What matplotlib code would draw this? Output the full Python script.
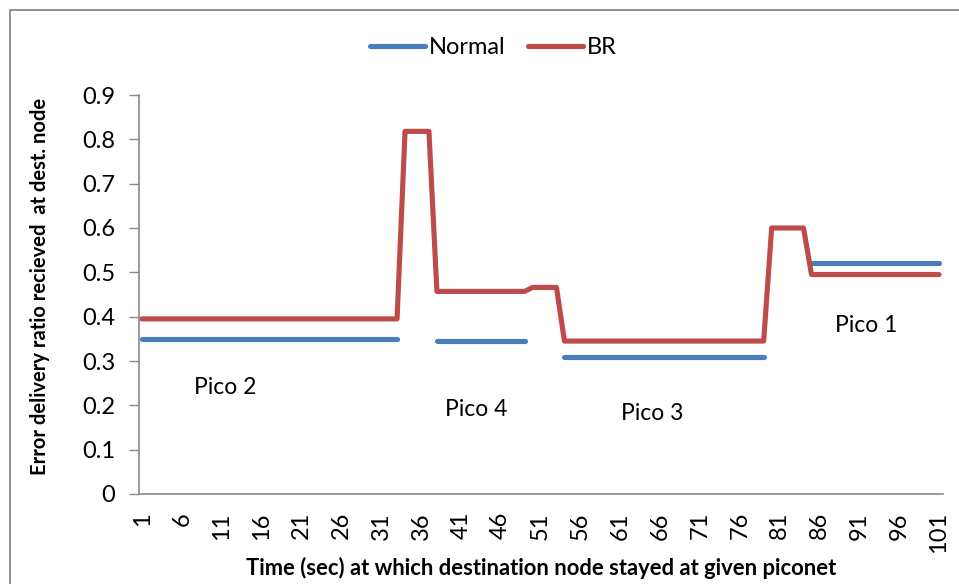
import numpy as np
import matplotlib.pyplot as plt
from matplotlib.patches import Rectangle

nan = np.nan

# time (sec), 1..101
time_sec = list(range(1, 102))

normal = [
    0.35, 0.35, 0.35, 0.35, 0.35, 0.35, 0.35, 0.35, 0.35, 0.35,
    0.35, 0.35, 0.35, 0.35, 0.35, 0.35, 0.35, 0.35, 0.35, 0.35,
    0.35, 0.35, 0.35, 0.35, 0.35, 0.35, 0.35, 0.35, 0.35, 0.35,
    0.35, 0.35, 0.35, nan, nan, nan, nan, 0.345, 0.345, 0.345,
    0.345, 0.345, 0.345, 0.345, 0.345, 0.345, 0.345, 0.345, 0.345, nan,
    nan, nan, nan, 0.31, 0.31, 0.31, 0.31, 0.31, 0.31, 0.31,
    0.31, 0.31, 0.31, 0.31, 0.31, 0.31, 0.31, 0.31, 0.31, 0.31,
    0.31, 0.31, 0.31, 0.31, 0.31, 0.31, 0.31, 0.31, 0.31, nan,
    nan, nan, nan, nan, 0.522, 0.522, 0.522, 0.522, 0.522, 0.522,
    0.522, 0.522, 0.522, 0.522, 0.522, 0.522, 0.522, 0.522, 0.522, 0.522,
    0.522,
]

br = [
    0.395, 0.395, 0.395, 0.395, 0.395, 0.395, 0.395, 0.395, 0.395, 0.395,
    0.395, 0.395, 0.395, 0.395, 0.395, 0.395, 0.395, 0.395, 0.395, 0.395,
    0.395, 0.395, 0.395, 0.395, 0.395, 0.395, 0.395, 0.395, 0.395, 0.395,
    0.395, 0.395, 0.395, 0.818, 0.818, 0.818, 0.818, 0.457, 0.457, 0.457,
    0.457, 0.457, 0.457, 0.457, 0.457, 0.457, 0.457, 0.457, 0.457, 0.466,
    0.466, 0.466, 0.466, 0.345, 0.345, 0.345, 0.345, 0.345, 0.345, 0.345,
    0.345, 0.345, 0.345, 0.345, 0.345, 0.345, 0.345, 0.345, 0.345, 0.345,
    0.345, 0.345, 0.345, 0.345, 0.345, 0.345, 0.345, 0.345, 0.345, 0.6,
    0.6, 0.6, 0.6, 0.6, 0.495, 0.495, 0.495, 0.495, 0.495, 0.495,
    0.495, 0.495, 0.495, 0.495, 0.495, 0.495, 0.495, 0.495, 0.495, 0.495,
    0.495,
]

x_ticks = list(range(1, 102, 5))
y_ticks = [0, 0.1, 0.2, 0.3, 0.4, 0.5, 0.6, 0.7, 0.8, 0.9]

# piconet labels: (text, time, value)
pico_labels = [("Pico 2", 11.4, 0.24), ("Pico 4", 42.9, 0.19),
               ("Pico 3", 65.0, 0.181), ("Pico 1", 91.8, 0.379)]

plt.rcParams['font.family'] = ['Lato', 'DejaVu Sans']

fig = plt.figure(figsize=(9.59, 5.84), dpi=100)
W, H = 959, 584
# chart area border
fig.patches.append(Rectangle((10 / W, -0.1), 1.2, 1 - 10 / H + 0.1,
                             transform=fig.transFigure, fill=False,
                             edgecolor='#898989', linewidth=1.3))

ax = fig.add_axes([139 / W, 1 - 494 / H, (943 - 139) / W, (494 - 95) / H])

ax.plot(time_sec, normal, color='#4A7EBB', lw=3.7, solid_capstyle='round',
        solid_joinstyle='round', label='Normal')
ax.plot(time_sec, br, color='#BE4B48', lw=3.7, solid_capstyle='round',
        solid_joinstyle='round', label='BR')

for txt, xv, yv in pico_labels:
    ax.text(xv, yv, txt, fontsize=16.5, ha='center', va='center')

ax.set_xlim(0.62, 101.5)
ax.set_ylim(0, 0.9)
ax.set_xticks(x_ticks)
ax.set_xticklabels([str(t) for t in x_ticks], rotation=90, fontsize=17)
ax.set_yticks(y_ticks)
ax.set_yticklabels(['0'] + [f'{v:.1f}' for v in y_ticks[1:]], fontsize=17)
ax.tick_params(axis='x', length=0, pad=13)
ax.tick_params(axis='y', length=7, width=1, color='#898989', pad=10)

for s in ['top', 'right']:
    ax.spines[s].set_visible(False)
for s in ['left', 'bottom']:
    ax.spines[s].set_color('#898989')
    ax.spines[s].set_linewidth(1.2)

ax.set_xlabel('Time (sec) at which destination node stayed at given piconet',
              fontsize=15.8, fontweight='bold', va='center')
ax.xaxis.set_label_coords(0.5, (494 - 568) / 399)
ax.set_ylabel('Error delivery ratio recieved  at dest. node',
              fontsize=14.5, fontweight='bold', va='center')
ax.yaxis.set_label_coords((40 - 139) / 804, 0.52)

ax.legend(loc='center', bbox_to_anchor=(493 / W, 1 - 48 / H),
          bbox_transform=fig.transFigure, ncol=2, frameon=False, fontsize=17,
          handlelength=2.35, handletextpad=0.15, columnspacing=0.95)

fig.savefig('out.png', dpi=100)
